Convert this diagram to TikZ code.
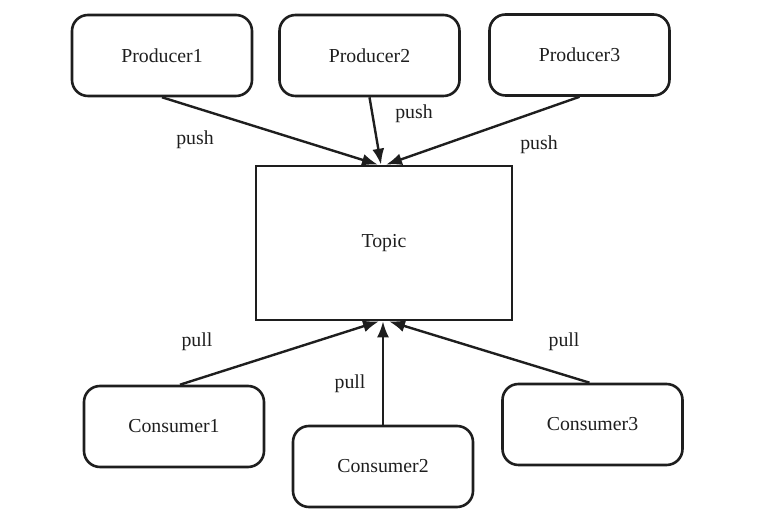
\documentclass[tikz,border=0pt]{standalone}
\usepackage{fontspec}
\setmainfont{Liberation Serif}
\usetikzlibrary{arrows.meta}
\definecolor{ink}{HTML}{1E1E1E}
\tikzset{>={Latex[length=8pt,width=6pt]},
  every node/.style={font=\fontsize{9.9}{11.8}\selectfont,text=ink},
  role/.style={draw=ink,line width=1.3pt,rounded corners=8pt,minimum width=90pt,minimum height=40.5pt},
  store/.style={draw=ink,line width=1.3pt,minimum width=128pt,minimum height=77pt},
  flow/.style={->,draw=ink,line width=1.2pt}}
\begin{document}
\begin{tikzpicture}[x=0.5pt,y=-0.5pt]
\useasboundingbox (0,0) rectangle (762,517);
\node[role] (p1) at (162,55.5) {Producer1}; \node[role] (p2) at (369.5,55.5) {Producer2};
\node[role] (p3) at (579.5,55) {Producer3};
\node[store] (t) at (384,243) {Topic};
\node[role] (c1) at (174,426.5) {Consumer1}; \node[role] (c2) at (383,466.5) {Consumer2};
\node[role] (c3) at (592.5,424.5) {Consumer3};
\draw[flow] (p1.south) -- ([xshift=-3pt]t.north);
\draw[flow] (p2.south) -- ([xshift=-1.5pt]t.north);
\draw[flow] (p3.south) -- ([xshift=1pt]t.north);
\draw[flow] ([xshift=3pt]c1.north) -- ([xshift=-2.5pt]t.south);
\draw[flow] (c2.north) -- (c2.north |- t.south);
\draw[flow] ([xshift=-1.5pt]c3.north) -- ([xshift=2.5pt]t.south);
\node (push1) at (195,140) {push}; \node (push2) at (414,114) {push};
\node (push3) at (539,145) {push};
\node (pull1) at (197,342) {pull}; \node (pull2) at (350,384) {pull};
\node (pull3) at (564,342) {pull};
\end{tikzpicture}
\end{document}
